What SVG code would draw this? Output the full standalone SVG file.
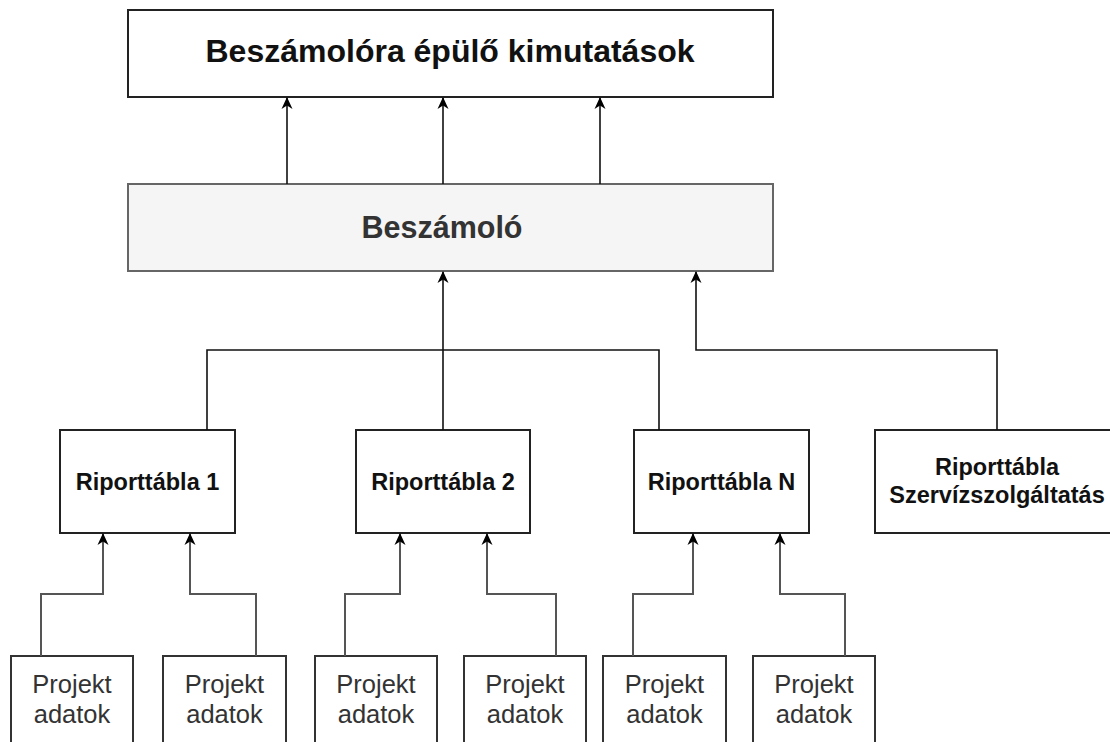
<svg xmlns="http://www.w3.org/2000/svg" width="1110" height="742" viewBox="0 0 1110 742">
  <defs>
    <marker id="arrow" viewBox="0 0 12 12" refX="11" refY="6" markerWidth="12" markerHeight="12" markerUnits="userSpaceOnUse" orient="auto">
      <path d="M0,0.5 L12,6 L0,11.5 L3.5,6 Z" fill="#000"/>
    </marker>
    <style>
      .box { fill: #fff; stroke: #222; stroke-width: 2; }
      .gray { fill: #f5f5f5; stroke: #666; stroke-width: 2; }
      .data { fill: #fff; stroke: #333; stroke-width: 2; }
      .wire { fill: none; stroke: #111; stroke-width: 1.6; }
      .wire2 { fill: none; stroke: #555; stroke-width: 2; }
      .bold { font-family: "Liberation Sans", Arial, sans-serif; font-weight: bold; text-anchor: middle; fill: #111; }
      .reg { font-family: "Liberation Sans", Arial, sans-serif; text-anchor: middle; fill: #333; font-size: 25.5px; }
    </style>
  </defs>
  <rect width="1110" height="742" fill="#fff"/>

  <g id="kimutatasok">
    <rect class="box" x="128" y="10" width="645" height="87"/>
    <text class="bold" x="450" y="62" font-size="32">Beszámolóra épülő kimutatások</text>
  </g>

  <g id="beszamolo">
    <rect class="gray" x="128" y="184" width="645" height="87"/>
    <text class="bold" x="442" y="238" font-size="30.5" style="fill:#333">Beszámoló</text>
  </g>

  <g id="riport1">
    <rect class="box" x="60" y="430" width="175" height="103"/>
    <text class="bold" x="147.5" y="490" font-size="23.5">Riporttábla 1</text>
  </g>
  <g id="riport2">
    <rect class="box" x="356" y="430" width="174" height="103"/>
    <text class="bold" x="443" y="490" font-size="23.5">Riporttábla 2</text>
  </g>
  <g id="riportN">
    <rect class="box" x="634" y="430" width="175" height="103"/>
    <text class="bold" x="721.5" y="490" font-size="23.5">Riporttábla N</text>
  </g>
  <g id="riportSzerviz">
    <rect class="box" x="875" y="430" width="244" height="103"/>
    <text class="bold" x="997" y="475" font-size="23.5">Riporttábla</text>
    <text class="bold" x="997" y="503" font-size="23.5">Szervízszolgáltatás</text>
  </g>

  <g id="projekt1">
    <rect class="data" x="11" y="656" width="122" height="110"/>
    <text class="reg" x="72" y="693">Projekt</text>
    <text class="reg" x="72" y="723">adatok</text>
  </g>
  <g id="projekt2">
    <rect class="data" x="163" y="656" width="123" height="110"/>
    <text class="reg" x="224.5" y="693">Projekt</text>
    <text class="reg" x="224.5" y="723">adatok</text>
  </g>
  <g id="projekt3">
    <rect class="data" x="315" y="656" width="122" height="110"/>
    <text class="reg" x="376" y="693">Projekt</text>
    <text class="reg" x="376" y="723">adatok</text>
  </g>
  <g id="projekt4">
    <rect class="data" x="464" y="656" width="122" height="110"/>
    <text class="reg" x="525" y="693">Projekt</text>
    <text class="reg" x="525" y="723">adatok</text>
  </g>
  <g id="projekt5">
    <rect class="data" x="603" y="656" width="123" height="110"/>
    <text class="reg" x="664.5" y="693">Projekt</text>
    <text class="reg" x="664.5" y="723">adatok</text>
  </g>
  <g id="projekt6">
    <rect class="data" x="753" y="656" width="122" height="110"/>
    <text class="reg" x="814" y="693">Projekt</text>
    <text class="reg" x="814" y="723">adatok</text>
  </g>

  <g id="connectors">
    <!-- Beszámoló to the reports above it -->
    <path class="wire" d="M287,184 V98" marker-end="url(#arrow)"/>
    <path class="wire" d="M443,184 V98" marker-end="url(#arrow)"/>
    <path class="wire" d="M600,184 V98" marker-end="url(#arrow)"/>

    <!-- report tables into Beszámoló -->
    <path class="wire" d="M207,430 V350 H443"/>
    <path class="wire" d="M659,430 V350 H443"/>
    <path class="wire" d="M443,430 V272" marker-end="url(#arrow)"/>
    <path class="wire" d="M997,430 V350 H696 V272" marker-end="url(#arrow)"/>

    <!-- project data into report tables -->
    <path class="wire2" d="M41,656 V594 H103 V534" marker-end="url(#arrow)"/>
    <path class="wire2" d="M256,656 V594 H190 V534" marker-end="url(#arrow)"/>
    <path class="wire2" d="M345,656 V594 H400 V534" marker-end="url(#arrow)"/>
    <path class="wire2" d="M556,656 V594 H487 V534" marker-end="url(#arrow)"/>
    <path class="wire2" d="M633,656 V594 H693 V534" marker-end="url(#arrow)"/>
    <path class="wire2" d="M845,656 V594 H780 V534" marker-end="url(#arrow)"/>
  </g>
</svg>
